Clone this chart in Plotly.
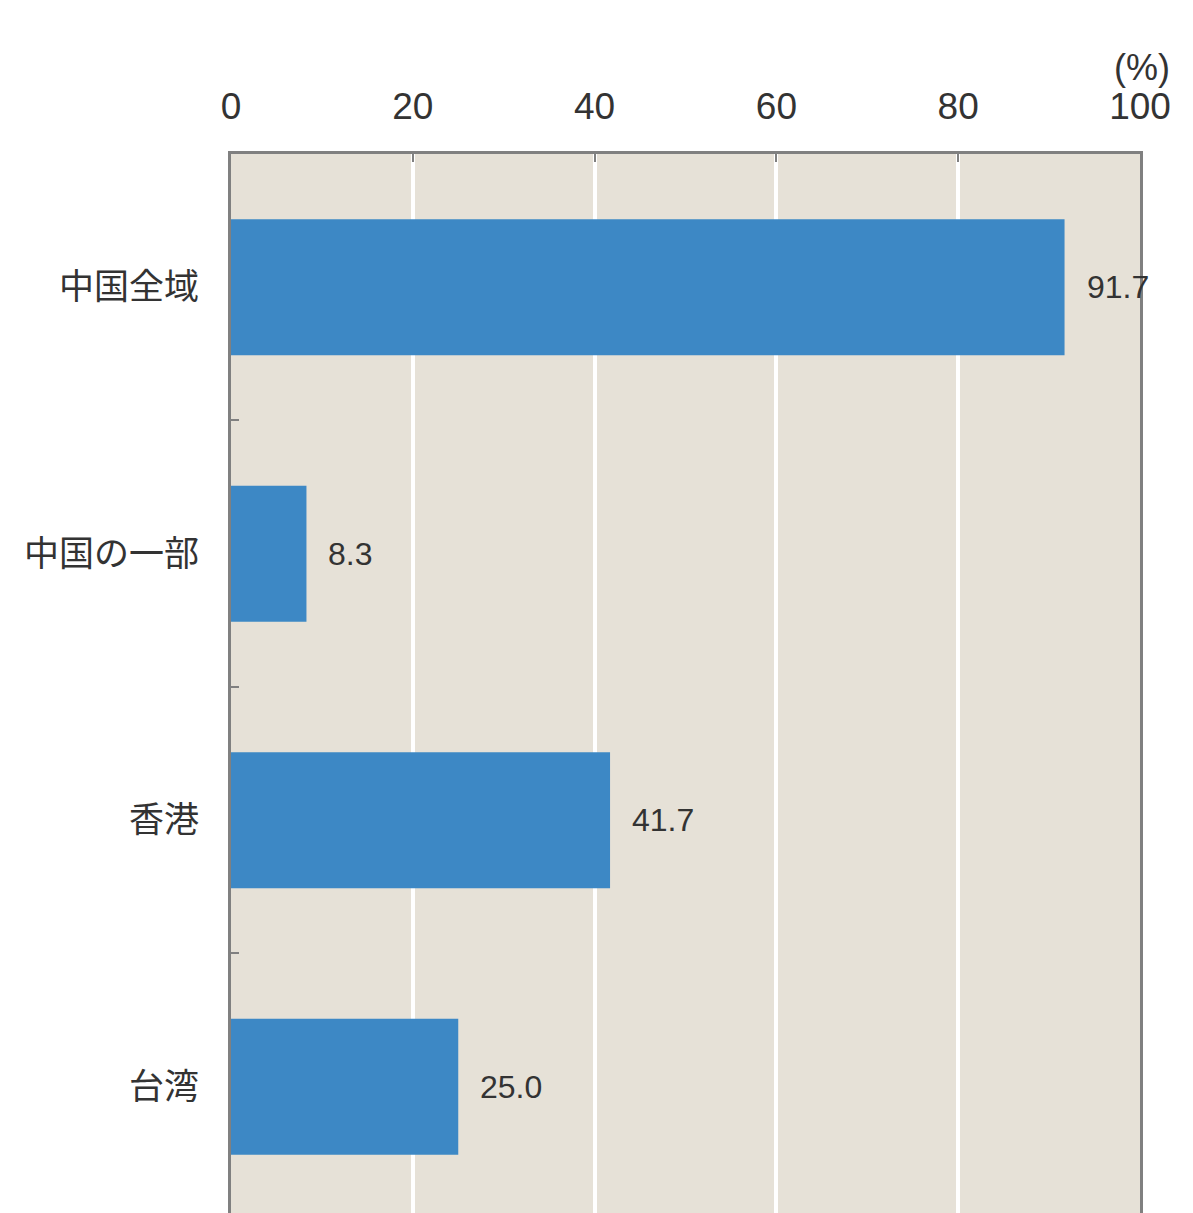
import plotly.graph_objects as go

categories = ["中国全域", "中国の一部", "香港", "台湾"]
values = [91.7, 8.3, 41.7, 25.0]
value_labels = ["91.7", "8.3", "41.7", "25.0"]
x_ticks = [0, 20, 40, 60, 80, 100]

fig = go.Figure()
fig.add_trace(go.Bar(
    y=categories, x=values, orientation="h",
    marker=dict(color="#3d88c5", line=dict(width=0)),
    width=0.51, hoverinfo="skip",
))

for c, v, t in zip(categories, values, value_labels):
    fig.add_annotation(x=v, y=c, text=t, showarrow=False, xanchor="left",
                       xshift=20, font=dict(family="Liberation Sans, Arial", size=32, color="#333333"))

fig.add_annotation(x=1.0, y=1.0, xref="paper", yref="paper", yshift=64, xshift=32,
                   text="(%)", showarrow=False, xanchor="right", yanchor="bottom",
                   font=dict(family="Liberation Sans, Arial", size=36, color="#333333"))

fig.update_layout(
    width=1193, height=1213,
    margin=dict(l=231, r=53, t=154, b=0),
    paper_bgcolor="white", plot_bgcolor="#e6e1d7",
    showlegend=False,
    xaxis=dict(
        side="top", range=[0, 100], tickvals=x_ticks,
        ticktext=[str(v) for v in x_ticks],
        showgrid=True, gridcolor="white", gridwidth=4, zeroline=False,
        showline=True, linecolor="#808080", linewidth=3,
        ticks="inside", ticklen=8, tickwidth=2, tickcolor="#808080",
        ticklabelstandoff=17,
        tickfont=dict(family="Liberation Sans, Arial", size=37, color="#333333"),
        fixedrange=True,
    ),
    yaxis=dict(
        categoryorder="array", categoryarray=categories,
        range=[3.474, -0.5],
        showgrid=False, zeroline=False,
        showline=True, mirror=True, linecolor="#808080", linewidth=3,
        tickson="boundaries", ticks="inside", ticklen=8, tickwidth=2, tickcolor="#808080",
        ticklabelstandoff=22,
        tickfont=dict(family="Noto Sans CJK JP", size=35, color="#333333"),
        fixedrange=True,
    ),
)

fig.write_html("out.html", config={"displayModeBar": False})
